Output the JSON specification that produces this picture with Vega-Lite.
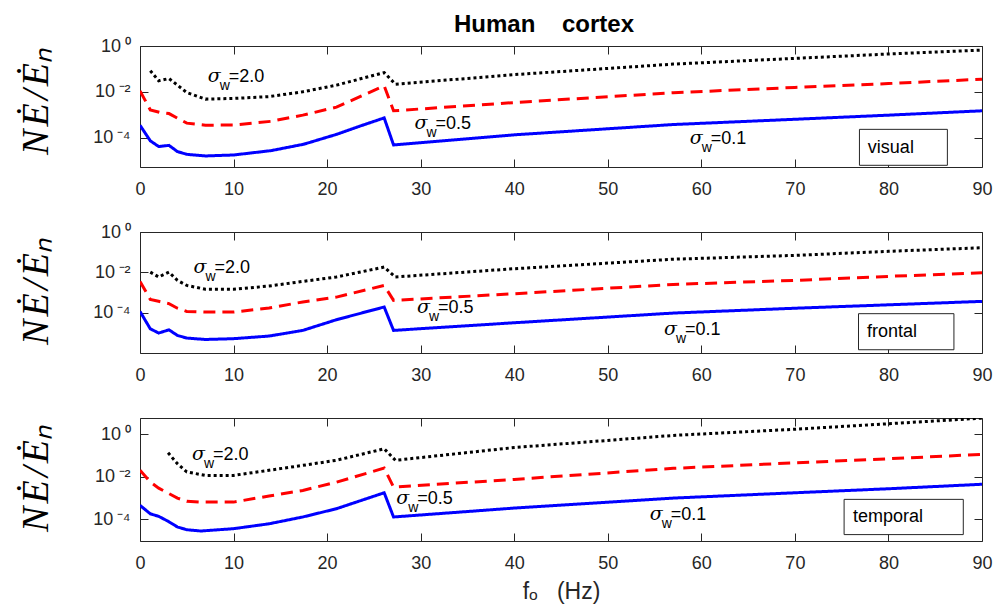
{
  "$schema": "https://vega.github.io/schema/vega-lite/v6.json",
  "padding": {"left": 16, "top": 13, "right": 5, "bottom": 5},
  "bounds": "flush",
  "spacing": 65,
  "config": {
    "font": "Liberation Sans",
    "view": {"stroke": null},
    "axis": {
      "domainColor": "#262626", "domainWidth": 1,
      "tickColor": "#262626", "tickWidth": 1, "tickSize": -8,
      "labelColor": "#262626", "labelFontSize": 18, "labelFont": "Liberation Sans",
      "grid": false, "titleColor": "#262626", "minExtent": 0
    }
  },
  "resolve": {"scale": {"x": "independent", "y": "independent"}},
  "datasets": {
    "curves": [
      {"region": "visual", "sigma": "0.1", "f": 0, "E": 3.47e-4},
      {"region": "visual", "sigma": "0.1", "f": 1.1, "E": 7.24e-5},
      {"region": "visual", "sigma": "0.1", "f": 2, "E": 4.07e-5},
      {"region": "visual", "sigma": "0.1", "f": 3.1, "E": 4.57e-5},
      {"region": "visual", "sigma": "0.1", "f": 4, "E": 2.45e-5},
      {"region": "visual", "sigma": "0.1", "f": 5, "E": 1.86e-5},
      {"region": "visual", "sigma": "0.1", "f": 7, "E": 1.58e-5},
      {"region": "visual", "sigma": "0.1", "f": 10, "E": 1.74e-5},
      {"region": "visual", "sigma": "0.1", "f": 14, "E": 2.69e-5},
      {"region": "visual", "sigma": "0.1", "f": 17.5, "E": 5.13e-5},
      {"region": "visual", "sigma": "0.1", "f": 21, "E": 1.38e-4},
      {"region": "visual", "sigma": "0.1", "f": 23.5, "E": 3.16e-4},
      {"region": "visual", "sigma": "0.1", "f": 26.1, "E": 7.24e-4},
      {"region": "visual", "sigma": "0.1", "f": 27.1, "E": 4.79e-5},
      {"region": "visual", "sigma": "0.1", "f": 40, "E": 1.32e-4},
      {"region": "visual", "sigma": "0.1", "f": 57, "E": 3.72e-4},
      {"region": "visual", "sigma": "0.1", "f": 70, "E": 6.31e-4},
      {"region": "visual", "sigma": "0.1", "f": 80, "E": 9.55e-4},
      {"region": "visual", "sigma": "0.1", "f": 90, "E": 1.48e-3},

      {"region": "visual", "sigma": "0.5", "f": 0, "E": 1.10e-2},
      {"region": "visual", "sigma": "0.5", "f": 1.1, "E": 1.62e-3},
      {"region": "visual", "sigma": "0.5", "f": 2.1, "E": 1.26e-3},
      {"region": "visual", "sigma": "0.5", "f": 3.1, "E": 1.12e-3},
      {"region": "visual", "sigma": "0.5", "f": 4, "E": 7.08e-4},
      {"region": "visual", "sigma": "0.5", "f": 5, "E": 4.27e-4},
      {"region": "visual", "sigma": "0.5", "f": 7, "E": 3.47e-4},
      {"region": "visual", "sigma": "0.5", "f": 10, "E": 3.55e-4},
      {"region": "visual", "sigma": "0.5", "f": 14, "E": 5.13e-4},
      {"region": "visual", "sigma": "0.5", "f": 17.4, "E": 9.55e-4},
      {"region": "visual", "sigma": "0.5", "f": 21, "E": 2.14e-3},
      {"region": "visual", "sigma": "0.5", "f": 26.1, "E": 1.82e-2},
      {"region": "visual", "sigma": "0.5", "f": 27.1, "E": 1.48e-3},
      {"region": "visual", "sigma": "0.5", "f": 40, "E": 3.39e-3},
      {"region": "visual", "sigma": "0.5", "f": 57, "E": 9.12e-3},
      {"region": "visual", "sigma": "0.5", "f": 70, "E": 1.55e-2},
      {"region": "visual", "sigma": "0.5", "f": 80, "E": 2.29e-2},
      {"region": "visual", "sigma": "0.5", "f": 90, "E": 3.55e-2},

      {"region": "visual", "sigma": "2.0", "f": 1.1, "E": 8.32e-2},
      {"region": "visual", "sigma": "2.0", "f": 2, "E": 3.02e-2},
      {"region": "visual", "sigma": "2.0", "f": 3.1, "E": 3.80e-2},
      {"region": "visual", "sigma": "2.0", "f": 4, "E": 1.95e-2},
      {"region": "visual", "sigma": "2.0", "f": 5, "E": 9.33e-3},
      {"region": "visual", "sigma": "2.0", "f": 7, "E": 4.79e-3},
      {"region": "visual", "sigma": "2.0", "f": 10, "E": 5.13e-3},
      {"region": "visual", "sigma": "2.0", "f": 13.8, "E": 6.17e-3},
      {"region": "visual", "sigma": "2.0", "f": 17.4, "E": 1.00e-2},
      {"region": "visual", "sigma": "2.0", "f": 21, "E": 1.95e-2},
      {"region": "visual", "sigma": "2.0", "f": 26.1, "E": 6.92e-2},
      {"region": "visual", "sigma": "2.0", "f": 27.3, "E": 2.14e-2},
      {"region": "visual", "sigma": "2.0", "f": 40, "E": 5.62e-2},
      {"region": "visual", "sigma": "2.0", "f": 57, "E": 1.62e-1},
      {"region": "visual", "sigma": "2.0", "f": 70, "E": 2.88e-1},
      {"region": "visual", "sigma": "2.0", "f": 80, "E": 4.47e-1},
      {"region": "visual", "sigma": "2.0", "f": 90, "E": 6.61e-1},

      {"region": "frontal", "sigma": "0.1", "f": 0, "E": 1.15e-4},
      {"region": "frontal", "sigma": "0.1", "f": 1.1, "E": 1.58e-5},
      {"region": "frontal", "sigma": "0.1", "f": 2, "E": 9.77e-6},
      {"region": "frontal", "sigma": "0.1", "f": 3.1, "E": 1.41e-5},
      {"region": "frontal", "sigma": "0.1", "f": 4, "E": 7.41e-6},
      {"region": "frontal", "sigma": "0.1", "f": 5, "E": 5.50e-6},
      {"region": "frontal", "sigma": "0.1", "f": 7, "E": 4.68e-6},
      {"region": "frontal", "sigma": "0.1", "f": 10, "E": 5.13e-6},
      {"region": "frontal", "sigma": "0.1", "f": 13.8, "E": 6.92e-6},
      {"region": "frontal", "sigma": "0.1", "f": 17.4, "E": 1.32e-5},
      {"region": "frontal", "sigma": "0.1", "f": 21, "E": 4.47e-5},
      {"region": "frontal", "sigma": "0.1", "f": 26.1, "E": 1.91e-4},
      {"region": "frontal", "sigma": "0.1", "f": 27.1, "E": 1.32e-5},
      {"region": "frontal", "sigma": "0.1", "f": 40, "E": 3.16e-5},
      {"region": "frontal", "sigma": "0.1", "f": 57, "E": 9.55e-5},
      {"region": "frontal", "sigma": "0.1", "f": 70, "E": 1.66e-4},
      {"region": "frontal", "sigma": "0.1", "f": 80, "E": 2.45e-4},
      {"region": "frontal", "sigma": "0.1", "f": 90, "E": 3.63e-4},

      {"region": "frontal", "sigma": "0.5", "f": 0, "E": 3.55e-3},
      {"region": "frontal", "sigma": "0.5", "f": 1.1, "E": 4.57e-4},
      {"region": "frontal", "sigma": "0.5", "f": 2.1, "E": 3.55e-4},
      {"region": "frontal", "sigma": "0.5", "f": 3.1, "E": 2.82e-4},
      {"region": "frontal", "sigma": "0.5", "f": 4, "E": 1.66e-4},
      {"region": "frontal", "sigma": "0.5", "f": 5, "E": 1.15e-4},
      {"region": "frontal", "sigma": "0.5", "f": 7, "E": 1.07e-4},
      {"region": "frontal", "sigma": "0.5", "f": 10, "E": 1.07e-4},
      {"region": "frontal", "sigma": "0.5", "f": 13.8, "E": 1.70e-4},
      {"region": "frontal", "sigma": "0.5", "f": 17.4, "E": 3.39e-4},
      {"region": "frontal", "sigma": "0.5", "f": 21, "E": 5.89e-4},
      {"region": "frontal", "sigma": "0.5", "f": 26.1, "E": 2.24e-3},
      {"region": "frontal", "sigma": "0.5", "f": 27.1, "E": 4.07e-4},
      {"region": "frontal", "sigma": "0.5", "f": 40, "E": 8.71e-4},
      {"region": "frontal", "sigma": "0.5", "f": 57, "E": 2.51e-3},
      {"region": "frontal", "sigma": "0.5", "f": 70, "E": 3.98e-3},
      {"region": "frontal", "sigma": "0.5", "f": 80, "E": 6.31e-3},
      {"region": "frontal", "sigma": "0.5", "f": 90, "E": 9.55e-3},

      {"region": "frontal", "sigma": "2.0", "f": 1.1, "E": 1.02e-2},
      {"region": "frontal", "sigma": "2.0", "f": 2, "E": 5.89e-3},
      {"region": "frontal", "sigma": "2.0", "f": 3.1, "E": 1.02e-2},
      {"region": "frontal", "sigma": "2.0", "f": 4, "E": 3.98e-3},
      {"region": "frontal", "sigma": "2.0", "f": 5, "E": 2.24e-3},
      {"region": "frontal", "sigma": "2.0", "f": 7, "E": 1.45e-3},
      {"region": "frontal", "sigma": "2.0", "f": 10, "E": 1.45e-3},
      {"region": "frontal", "sigma": "2.0", "f": 13.8, "E": 2.09e-3},
      {"region": "frontal", "sigma": "2.0", "f": 17.4, "E": 3.55e-3},
      {"region": "frontal", "sigma": "2.0", "f": 21, "E": 5.89e-3},
      {"region": "frontal", "sigma": "2.0", "f": 26.1, "E": 1.82e-2},
      {"region": "frontal", "sigma": "2.0", "f": 27.3, "E": 5.89e-3},
      {"region": "frontal", "sigma": "2.0", "f": 40, "E": 1.51e-2},
      {"region": "frontal", "sigma": "2.0", "f": 57, "E": 4.47e-2},
      {"region": "frontal", "sigma": "2.0", "f": 70, "E": 6.92e-2},
      {"region": "frontal", "sigma": "2.0", "f": 80, "E": 1.10e-1},
      {"region": "frontal", "sigma": "2.0", "f": 90, "E": 1.66e-1},

      {"region": "temporal", "sigma": "0.1", "f": 0, "E": 4.57e-4},
      {"region": "temporal", "sigma": "0.1", "f": 1.1, "E": 1.82e-4},
      {"region": "temporal", "sigma": "0.1", "f": 2, "E": 1.38e-4},
      {"region": "temporal", "sigma": "0.1", "f": 3, "E": 8.13e-5},
      {"region": "temporal", "sigma": "0.1", "f": 4, "E": 4.37e-5},
      {"region": "temporal", "sigma": "0.1", "f": 5, "E": 3.24e-5},
      {"region": "temporal", "sigma": "0.1", "f": 6.5, "E": 2.82e-5},
      {"region": "temporal", "sigma": "0.1", "f": 10, "E": 3.63e-5},
      {"region": "temporal", "sigma": "0.1", "f": 13.8, "E": 6.17e-5},
      {"region": "temporal", "sigma": "0.1", "f": 17.4, "E": 1.29e-4},
      {"region": "temporal", "sigma": "0.1", "f": 21, "E": 3.16e-4},
      {"region": "temporal", "sigma": "0.1", "f": 26.1, "E": 1.78e-3},
      {"region": "temporal", "sigma": "0.1", "f": 27.1, "E": 1.29e-4},
      {"region": "temporal", "sigma": "0.1", "f": 40, "E": 3.39e-4},
      {"region": "temporal", "sigma": "0.1", "f": 57, "E": 1.00e-3},
      {"region": "temporal", "sigma": "0.1", "f": 70, "E": 1.78e-3},
      {"region": "temporal", "sigma": "0.1", "f": 80, "E": 2.75e-3},
      {"region": "temporal", "sigma": "0.1", "f": 90, "E": 4.47e-3},

      {"region": "temporal", "sigma": "0.5", "f": 0, "E": 2.04e-2},
      {"region": "temporal", "sigma": "0.5", "f": 1.1, "E": 5.75e-3},
      {"region": "temporal", "sigma": "0.5", "f": 2, "E": 2.95e-3},
      {"region": "temporal", "sigma": "0.5", "f": 4, "E": 1.00e-3},
      {"region": "temporal", "sigma": "0.5", "f": 5, "E": 7.08e-4},
      {"region": "temporal", "sigma": "0.5", "f": 6.5, "E": 6.46e-4},
      {"region": "temporal", "sigma": "0.5", "f": 10, "E": 6.46e-4},
      {"region": "temporal", "sigma": "0.5", "f": 13.8, "E": 1.26e-3},
      {"region": "temporal", "sigma": "0.5", "f": 17.4, "E": 2.29e-3},
      {"region": "temporal", "sigma": "0.5", "f": 21, "E": 5.62e-3},
      {"region": "temporal", "sigma": "0.5", "f": 26.1, "E": 2.57e-2},
      {"region": "temporal", "sigma": "0.5", "f": 27.1, "E": 3.31e-3},
      {"region": "temporal", "sigma": "0.5", "f": 40, "E": 7.59e-3},
      {"region": "temporal", "sigma": "0.5", "f": 57, "E": 2.51e-2},
      {"region": "temporal", "sigma": "0.5", "f": 70, "E": 4.57e-2},
      {"region": "temporal", "sigma": "0.5", "f": 80, "E": 7.08e-2},
      {"region": "temporal", "sigma": "0.5", "f": 90, "E": 1.15e-1},

      {"region": "temporal", "sigma": "2.0", "f": 3, "E": 1.35e-1},
      {"region": "temporal", "sigma": "2.0", "f": 4, "E": 4.17e-2},
      {"region": "temporal", "sigma": "2.0", "f": 5, "E": 1.70e-2},
      {"region": "temporal", "sigma": "2.0", "f": 7, "E": 1.17e-2},
      {"region": "temporal", "sigma": "2.0", "f": 10, "E": 1.17e-2},
      {"region": "temporal", "sigma": "2.0", "f": 13.8, "E": 2.04e-2},
      {"region": "temporal", "sigma": "2.0", "f": 17.4, "E": 3.47e-2},
      {"region": "temporal", "sigma": "2.0", "f": 21, "E": 6.03e-2},
      {"region": "temporal", "sigma": "2.0", "f": 26.1, "E": 2.09e-1},
      {"region": "temporal", "sigma": "2.0", "f": 27.3, "E": 6.03e-2},
      {"region": "temporal", "sigma": "2.0", "f": 40, "E": 2.4e-1},
      {"region": "temporal", "sigma": "2.0", "f": 57, "E": 8.91e-1},
      {"region": "temporal", "sigma": "2.0", "f": 70, "E": 1.74},
      {"region": "temporal", "sigma": "2.0", "f": 80, "E": 3.16},
      {"region": "temporal", "sigma": "2.0", "f": 90, "E": 5.8}
    ],
    "notes": [
      {"region": "visual", "f": 7.24, "E": 2.55e-2, "val": "=2.0"},
      {"region": "visual", "f": 29.35, "E": 2.48e-4, "val": "=0.5"},
      {"region": "visual", "f": 58.76, "E": 5.09e-5, "val": "=0.1"},
      {"region": "frontal", "f": 5.71, "E": 9.55e-3, "val": "=2.0"},
      {"region": "frontal", "f": 29.6, "E": 9.55e-5, "val": "=0.5"},
      {"region": "frontal", "f": 56.0, "E": 7.41e-6, "val": "=0.1"},
      {"region": "temporal", "f": 5.56, "E": 5.97e-2, "val": "=2.0"},
      {"region": "temporal", "f": 27.38, "E": 5.42e-4, "val": "=0.5"},
      {"region": "temporal", "f": 54.48, "E": 8.97e-5, "val": "=0.1"}
    ],
    "boxes": [
      {"region": "visual", "lx": 76.9, "rx": 86.3, "top": 2.29e-4, "bot": 6.17e-6, "tx": 77.8, "ty": 2.19e-5, "label": "visual"},
      {"region": "frontal", "lx": 76.8, "rx": 87.0, "top": 8.91e-5, "bot": 1.45e-6, "tx": 77.7, "ty": 6.17e-6, "label": "frontal"},
      {"region": "temporal", "lx": 75.26, "rx": 88.0, "top": 8.71e-4, "bot": 1.91e-5, "tx": 76.2, "ty": 7.41e-5, "label": "temporal"}
    ]
  },
  "vconcat": [
    {
      "width": 842, "height": 121,
      "title": {"text": "Human\u00a0\u00a0\u00a0\u00a0cortex", "font": "Liberation Sans", "fontSize": 24, "fontWeight": "bold", "color": "#000000", "frame": "group", "anchor": "middle", "dx": -17, "offset": -19, "baseline": "alphabetic"},
      "resolve": {"axis": {"x": "independent", "y": "independent"}},
      "layer": [
        {
          "data": {"name": "curves"},
          "transform": [{"filter": "datum.region === 'visual'"}],
          "mark": {"type": "line", "strokeWidth": 3, "strokeCap": "butt", "clip": true},
          "encoding": {
            "x": {"field": "f", "type": "quantitative", "scale": {"domain": [0, 90], "nice": false},
                  "axis": {"values": [0, 10, 20, 30, 40, 50, 60, 70, 80, 90], "title": null, "labelFlush": false, "labelPadding": 21}},
            "y": {"field": "E", "type": "quantitative", "scale": {"type": "log", "domain": [5.2e-6, 1], "nice": false},
                  "axis": {"values": [1, 0.01, 0.0001], "labelPadding": 18, "labelExpr": "datum.value > 0.5 ? '10\u2009\u2070' : datum.value > 0.005 ? '10\u2009\u207b\u00b2' : '10\u2009\u207b\u2074'",
                           "title": "N\u200a\u0116\u200a/\u200a\u0116\u2099", "titleFont": "Liberation Serif", "titleFontStyle": "italic", "titleFontWeight": "normal", "titleFontSize": 38, "titleColor": "#000000",
                           "titleX": -93, "titleY": 55, "titleBaseline": "alphabetic", "titleAlign": "center", "titleAngle": -90}},
            "color": {"field": "sigma", "type": "nominal", "scale": {"domain": ["0.1", "0.5", "2.0"], "range": ["#0000ff", "#ff0000", "#000000"]}, "legend": null},
            "strokeDash": {"field": "sigma", "type": "nominal", "scale": {"domain": ["0.1", "0.5", "2.0"], "range": [[1, 0], [12, 7], [3, 3]]}, "legend": null}
          }
        },
        {
          "data": {"name": "boxes"},
          "transform": [{"filter": "datum.region === 'visual'"}],
          "mark": {"type": "rect", "fill": "#ffffff", "stroke": "#262626", "strokeWidth": 1},
          "encoding": {
            "x": {"field": "lx", "type": "quantitative", "scale": {"domain": [0, 90], "nice": false},
                  "axis": {"orient": "top", "values": [0, 10, 20, 30, 40, 50, 60, 70, 80, 90], "labels": false, "title": null}},
            "x2": {"field": "rx"},
            "y": {"field": "top", "type": "quantitative", "scale": {"type": "log", "domain": [5.2e-6, 1], "nice": false},
                  "axis": {"orient": "right", "values": [1, 0.01, 0.0001], "labels": false, "title": null}},
            "y2": {"field": "bot"}
          }
        },
        {
          "data": {"name": "boxes"},
          "transform": [{"filter": "datum.region === 'visual'"}],
          "mark": {"type": "text", "align": "left", "baseline": "alphabetic", "fontSize": 18, "color": "#000000"},
          "encoding": {
            "x": {"field": "tx", "type": "quantitative", "scale": {"domain": [0, 90], "nice": false}, "axis": null},
            "y": {"field": "ty", "type": "quantitative", "scale": {"type": "log", "domain": [5.2e-6, 1], "nice": false}, "axis": null},
            "text": {"field": "label"}
          }
        },
        {
          "data": {"name": "notes"},
          "transform": [{"filter": "datum.region === 'visual'"}],
          "mark": {"type": "text", "text": "σ", "font": "DejaVu Serif", "fontStyle": "italic", "fontSize": 19, "align": "left", "baseline": "alphabetic", "color": "#000000"},
          "encoding": {
            "x": {"field": "f", "type": "quantitative", "scale": {"domain": [0, 90], "nice": false}, "axis": null},
            "y": {"field": "E", "type": "quantitative", "scale": {"type": "log", "domain": [5.2e-6, 1], "nice": false}, "axis": null}
          }
        },
        {
          "data": {"name": "notes"},
          "transform": [{"filter": "datum.region === 'visual'"}],
          "mark": {"type": "text", "text": "w", "fontSize": 14, "dx": 12, "dy": 8, "align": "left", "baseline": "alphabetic", "color": "#000000"},
          "encoding": {
            "x": {"field": "f", "type": "quantitative", "scale": {"domain": [0, 90], "nice": false}, "axis": null},
            "y": {"field": "E", "type": "quantitative", "scale": {"type": "log", "domain": [5.2e-6, 1], "nice": false}, "axis": null}
          }
        },
        {
          "data": {"name": "notes"},
          "transform": [{"filter": "datum.region === 'visual'"}],
          "mark": {"type": "text", "fontSize": 18, "dx": 21, "align": "left", "baseline": "alphabetic", "color": "#000000"},
          "encoding": {
            "x": {"field": "f", "type": "quantitative", "scale": {"domain": [0, 90], "nice": false}, "axis": null},
            "y": {"field": "E", "type": "quantitative", "scale": {"type": "log", "domain": [5.2e-6, 1], "nice": false}, "axis": null},
            "text": {"field": "val"}
          }
        }
      ]
    },
    {
      "width": 842, "height": 121,
      "resolve": {"axis": {"x": "independent", "y": "independent"}},
      "layer": [
        {
          "data": {"name": "curves"},
          "transform": [{"filter": "datum.region === 'frontal'"}],
          "mark": {"type": "line", "strokeWidth": 3, "strokeCap": "butt", "clip": true},
          "encoding": {
            "x": {"field": "f", "type": "quantitative", "scale": {"domain": [0, 90], "nice": false},
                  "axis": {"values": [0, 10, 20, 30, 40, 50, 60, 70, 80, 90], "title": null, "labelFlush": false, "labelPadding": 21}},
            "y": {"field": "E", "type": "quantitative", "scale": {"type": "log", "domain": [1e-6, 1], "nice": false},
                  "axis": {"values": [1, 0.01, 0.0001], "labelPadding": 18, "labelExpr": "datum.value > 0.5 ? '10\u2009\u2070' : datum.value > 0.005 ? '10\u2009\u207b\u00b2' : '10\u2009\u207b\u2074'",
                           "title": "N\u200a\u0116\u200a/\u200a\u0116\u2099", "titleFont": "Liberation Serif", "titleFontStyle": "italic", "titleFontWeight": "normal", "titleFontSize": 38, "titleColor": "#000000",
                           "titleX": -93, "titleY": 59, "titleBaseline": "alphabetic", "titleAlign": "center", "titleAngle": -90}},
            "color": {"field": "sigma", "type": "nominal", "scale": {"domain": ["0.1", "0.5", "2.0"], "range": ["#0000ff", "#ff0000", "#000000"]}, "legend": null},
            "strokeDash": {"field": "sigma", "type": "nominal", "scale": {"domain": ["0.1", "0.5", "2.0"], "range": [[1, 0], [12, 7], [3, 3]]}, "legend": null}
          }
        },
        {
          "data": {"name": "boxes"},
          "transform": [{"filter": "datum.region === 'frontal'"}],
          "mark": {"type": "rect", "fill": "#ffffff", "stroke": "#262626", "strokeWidth": 1},
          "encoding": {
            "x": {"field": "lx", "type": "quantitative", "scale": {"domain": [0, 90], "nice": false},
                  "axis": {"orient": "top", "values": [0, 10, 20, 30, 40, 50, 60, 70, 80, 90], "labels": false, "title": null}},
            "x2": {"field": "rx"},
            "y": {"field": "top", "type": "quantitative", "scale": {"type": "log", "domain": [1e-6, 1], "nice": false},
                  "axis": {"orient": "right", "values": [1, 0.01, 0.0001], "labels": false, "title": null}},
            "y2": {"field": "bot"}
          }
        },
        {
          "data": {"name": "boxes"},
          "transform": [{"filter": "datum.region === 'frontal'"}],
          "mark": {"type": "text", "align": "left", "baseline": "alphabetic", "fontSize": 18, "color": "#000000"},
          "encoding": {
            "x": {"field": "tx", "type": "quantitative", "scale": {"domain": [0, 90], "nice": false}, "axis": null},
            "y": {"field": "ty", "type": "quantitative", "scale": {"type": "log", "domain": [1e-6, 1], "nice": false}, "axis": null},
            "text": {"field": "label"}
          }
        },
        {
          "data": {"name": "notes"},
          "transform": [{"filter": "datum.region === 'frontal'"}],
          "mark": {"type": "text", "text": "σ", "font": "DejaVu Serif", "fontStyle": "italic", "fontSize": 19, "align": "left", "baseline": "alphabetic", "color": "#000000"},
          "encoding": {
            "x": {"field": "f", "type": "quantitative", "scale": {"domain": [0, 90], "nice": false}, "axis": null},
            "y": {"field": "E", "type": "quantitative", "scale": {"type": "log", "domain": [1e-6, 1], "nice": false}, "axis": null}
          }
        },
        {
          "data": {"name": "notes"},
          "transform": [{"filter": "datum.region === 'frontal'"}],
          "mark": {"type": "text", "text": "w", "fontSize": 14, "dx": 12, "dy": 8, "align": "left", "baseline": "alphabetic", "color": "#000000"},
          "encoding": {
            "x": {"field": "f", "type": "quantitative", "scale": {"domain": [0, 90], "nice": false}, "axis": null},
            "y": {"field": "E", "type": "quantitative", "scale": {"type": "log", "domain": [1e-6, 1], "nice": false}, "axis": null}
          }
        },
        {
          "data": {"name": "notes"},
          "transform": [{"filter": "datum.region === 'frontal'"}],
          "mark": {"type": "text", "fontSize": 18, "dx": 21, "align": "left", "baseline": "alphabetic", "color": "#000000"},
          "encoding": {
            "x": {"field": "f", "type": "quantitative", "scale": {"domain": [0, 90], "nice": false}, "axis": null},
            "y": {"field": "E", "type": "quantitative", "scale": {"type": "log", "domain": [1e-6, 1], "nice": false}, "axis": null},
            "text": {"field": "val"}
          }
        }
      ]
    },
    {
      "width": 842, "height": 123,
      "resolve": {"axis": {"x": "independent", "y": "independent"}},
      "layer": [
        {
          "data": {"name": "curves"},
          "transform": [{"filter": "datum.region === 'temporal'"}],
          "mark": {"type": "line", "strokeWidth": 3, "strokeCap": "butt", "clip": true},
          "encoding": {
            "x": {"field": "f", "type": "quantitative", "scale": {"domain": [0, 90], "nice": false},
                  "axis": {"values": [0, 10, 20, 30, 40, 50, 60, 70, 80, 90], "labelFlush": false, "labelPadding": 21,
                           "title": "f\u2092\u00a0\u00a0\u00a0(Hz)", "titleFont": "Liberation Sans", "titleFontSize": 23, "titleFontWeight": "normal", "titleY": 57.7, "titleBaseline": "alphabetic"}},
            "y": {"field": "E", "type": "quantitative", "scale": {"type": "log", "domain": [9.55e-6, 5.89], "nice": false},
                  "axis": {"values": [1, 0.01, 0.0001], "labelPadding": 18, "labelExpr": "datum.value > 0.5 ? '10\u2009\u2070' : datum.value > 0.005 ? '10\u2009\u207b\u00b2' : '10\u2009\u207b\u2074'",
                           "title": "N\u200a\u0116\u200a/\u200a\u0116\u2099", "titleFont": "Liberation Serif", "titleFontStyle": "italic", "titleFontWeight": "normal", "titleFontSize": 38, "titleColor": "#000000",
                           "titleX": -93, "titleY": 60, "titleBaseline": "alphabetic", "titleAlign": "center", "titleAngle": -90}},
            "color": {"field": "sigma", "type": "nominal", "scale": {"domain": ["0.1", "0.5", "2.0"], "range": ["#0000ff", "#ff0000", "#000000"]}, "legend": null},
            "strokeDash": {"field": "sigma", "type": "nominal", "scale": {"domain": ["0.1", "0.5", "2.0"], "range": [[1, 0], [12, 7], [3, 3]]}, "legend": null}
          }
        },
        {
          "data": {"name": "boxes"},
          "transform": [{"filter": "datum.region === 'temporal'"}],
          "mark": {"type": "rect", "fill": "#ffffff", "stroke": "#262626", "strokeWidth": 1},
          "encoding": {
            "x": {"field": "lx", "type": "quantitative", "scale": {"domain": [0, 90], "nice": false},
                  "axis": {"orient": "top", "values": [0, 10, 20, 30, 40, 50, 60, 70, 80, 90], "labels": false, "title": null}},
            "x2": {"field": "rx"},
            "y": {"field": "top", "type": "quantitative", "scale": {"type": "log", "domain": [9.55e-6, 5.89], "nice": false},
                  "axis": {"orient": "right", "values": [1, 0.01, 0.0001], "labels": false, "title": null}},
            "y2": {"field": "bot"}
          }
        },
        {
          "data": {"name": "boxes"},
          "transform": [{"filter": "datum.region === 'temporal'"}],
          "mark": {"type": "text", "align": "left", "baseline": "alphabetic", "fontSize": 18, "color": "#000000"},
          "encoding": {
            "x": {"field": "tx", "type": "quantitative", "scale": {"domain": [0, 90], "nice": false}, "axis": null},
            "y": {"field": "ty", "type": "quantitative", "scale": {"type": "log", "domain": [9.55e-6, 5.89], "nice": false}, "axis": null},
            "text": {"field": "label"}
          }
        },
        {
          "data": {"name": "notes"},
          "transform": [{"filter": "datum.region === 'temporal'"}],
          "mark": {"type": "text", "text": "σ", "font": "DejaVu Serif", "fontStyle": "italic", "fontSize": 19, "align": "left", "baseline": "alphabetic", "color": "#000000"},
          "encoding": {
            "x": {"field": "f", "type": "quantitative", "scale": {"domain": [0, 90], "nice": false}, "axis": null},
            "y": {"field": "E", "type": "quantitative", "scale": {"type": "log", "domain": [9.55e-6, 5.89], "nice": false}, "axis": null}
          }
        },
        {
          "data": {"name": "notes"},
          "transform": [{"filter": "datum.region === 'temporal'"}],
          "mark": {"type": "text", "text": "w", "fontSize": 14, "dx": 12, "dy": 8, "align": "left", "baseline": "alphabetic", "color": "#000000"},
          "encoding": {
            "x": {"field": "f", "type": "quantitative", "scale": {"domain": [0, 90], "nice": false}, "axis": null},
            "y": {"field": "E", "type": "quantitative", "scale": {"type": "log", "domain": [9.55e-6, 5.89], "nice": false}, "axis": null}
          }
        },
        {
          "data": {"name": "notes"},
          "transform": [{"filter": "datum.region === 'temporal'"}],
          "mark": {"type": "text", "fontSize": 18, "dx": 21, "align": "left", "baseline": "alphabetic", "color": "#000000"},
          "encoding": {
            "x": {"field": "f", "type": "quantitative", "scale": {"domain": [0, 90], "nice": false}, "axis": null},
            "y": {"field": "E", "type": "quantitative", "scale": {"type": "log", "domain": [9.55e-6, 5.89], "nice": false}, "axis": null},
            "text": {"field": "val"}
          }
        }
      ]
    }
  ]
}
